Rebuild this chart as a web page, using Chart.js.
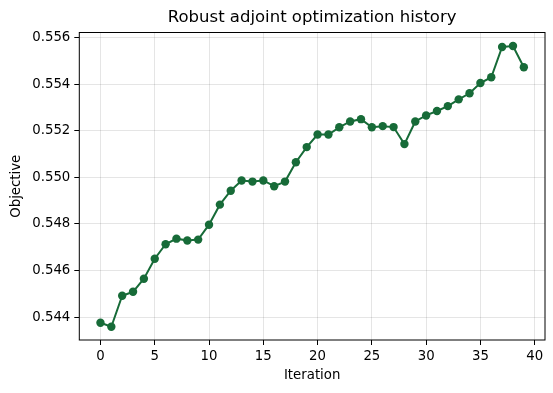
<!DOCTYPE html>
<html>
<head>
<meta charset="utf-8">
<script src="https://cdn.jsdelivr.net/npm/chart.js@4"></script>
<style>
  body { margin: 0; background: #fff; }
  #wrap { width: 553px; height: 393px; }
</style>
</head>
<body>
<div id="wrap"><canvas id="chart"></canvas></div>
<script>
// donnees
const iterations = [0, 1, 2, 3, 4, 5, 6, 7, 8, 9, 10, 11, 12, 13, 14, 15, 16, 17, 18, 19,
                    20, 21, 22, 23, 24, 25, 26, 27, 28, 29, 30, 31, 32, 33, 34, 35, 36, 37, 38, 39];
const objective = [0.54376, 0.54359, 0.54492, 0.54509, 0.54565, 0.54651, 0.54713, 0.54737, 0.54729, 0.54733,
                   0.54797, 0.54883, 0.54943, 0.54987, 0.54982, 0.54987, 0.54962, 0.54982, 0.55065, 0.55130,
                   0.55184, 0.55184, 0.55215, 0.55240, 0.55250, 0.55215, 0.55220, 0.55216, 0.55143, 0.55240,
                   0.55266, 0.55285, 0.55306, 0.55335, 0.55361, 0.55405, 0.55430, 0.55560, 0.55564, 0.55473];
const xTicks = [0, 5, 10, 15, 20, 25, 30, 35, 40];
const yTicks = [0.544, 0.546, 0.548, 0.550, 0.552, 0.554, 0.556];

const green = '#176b38';
const font = 'DejaVu Sans';
const titleText = 'Robust adjoint optimization history';

Chart.defaults.color = '#000';
Chart.defaults.font.family = font;

// cadre noir autour de la zone du graphique + titre centre sur la zone
const frame = {
  id: 'frame',
  afterDraw(chart) {
    const a = chart.chartArea;
    const c = chart.ctx;
    c.save();
    c.strokeStyle = '#000';
    c.lineWidth = 1;
    c.strokeRect(a.left, a.top, a.right - a.left, a.bottom - a.top);
    c.fillStyle = '#000';
    c.font = '16.5px "' + font + '"';
    c.textAlign = 'center';
    c.textBaseline = 'middle';
    c.fillText(titleText, (a.left + a.right) / 2, 18);
    c.restore();
  }
};

const ctx = document.getElementById('chart');

new Chart(ctx, {
  type: 'scatter',
  data: {
    datasets: [{
      data: iterations.map((it, i) => ({ x: it, y: objective[i] })),
      showLine: true,
      borderColor: green,
      backgroundColor: green,
      borderWidth: 2,
      pointRadius: 4.2,
      pointHoverRadius: 4.2,
      pointBorderWidth: 0
    }]
  },
  options: {
    responsive: true,
    maintainAspectRatio: false,
    animation: false,
    layout: { padding: { left: 0, right: 8, top: 32.5, bottom: 0 } },
    plugins: {
      legend: { display: false },
      tooltip: { enabled: false },
      title: { display: false }
    },
    scales: {
      x: {
        type: 'linear',
        min: -1.95,
        max: 40.95,
        afterBuildTicks: s => { s.ticks = xTicks.map(v => ({ value: v })); },
        afterFit: s => { s.height = 53; },
        ticks: { font: { size: 13.3 }, padding: 4, maxRotation: 0 },
        grid: { color: 'rgba(0,0,0,0.1)', tickColor: '#000', tickLength: 5, lineWidth: 1 },
        border: { display: false },
        title: {
          display: true,
          text: 'Iteration',
          font: { size: 13.3 },
          padding: { top: 0, bottom: 9 }
        }
      },
      y: {
        min: 0.54302,
        max: 0.55622,
        afterBuildTicks: s => { s.ticks = yTicks.map(v => ({ value: v })); },
        afterFit: s => { s.width = 79.3; },
        ticks: { font: { size: 13.3 }, padding: 4, callback: v => v.toFixed(3) },
        grid: { color: 'rgba(0,0,0,0.1)', tickColor: '#000', tickLength: 5, lineWidth: 1 },
        border: { display: false },
        title: {
          display: true,
          text: 'Objective',
          font: { size: 13.3 },
          padding: { top: 9, bottom: 0 }
        }
      }
    }
  },
  plugins: [frame]
});
</script>
</body>
</html>
